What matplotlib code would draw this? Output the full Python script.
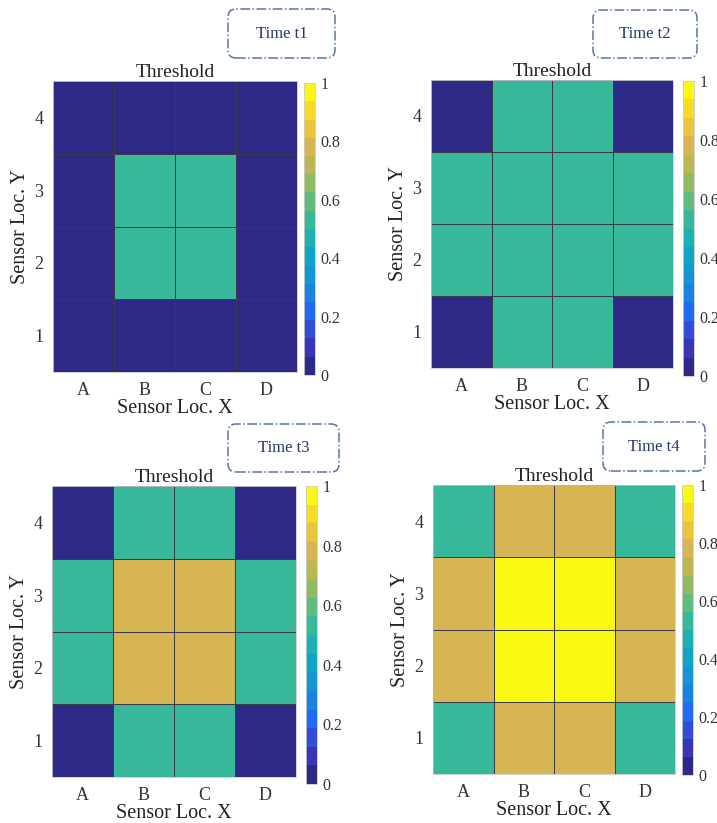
import numpy as np
import matplotlib
matplotlib.use("Agg")
import matplotlib.pyplot as plt
from matplotlib.colors import LinearSegmentedColormap, ListedColormap
from matplotlib.patches import FancyBboxPatch

plt.rcParams["font.family"] = ["Liberation Serif", "DejaVu Serif"]

# data: rows are Sensor Loc. Y = 1..4 (bottom to top), columns A..D
x_labels = ["A", "B", "C", "D"]
y_labels = ["1", "2", "3", "4"]
time_labels = ["Time t1", "Time t2", "Time t3", "Time t4"]

t1 = [[0, 0, 0, 0],
      [0, 0.5, 0.5, 0],
      [0, 0.5, 0.5, 0],
      [0, 0, 0, 0]]
t2 = [[0, 0.5, 0.5, 0],
      [0.5, 0.5, 0.5, 0.5],
      [0.5, 0.5, 0.5, 0.5],
      [0, 0.5, 0.5, 0]]
t3 = [[0, 0.5, 0.5, 0],
      [0.5, 0.75, 0.75, 0.5],
      [0.5, 0.75, 0.75, 0.5],
      [0, 0.5, 0.5, 0]]
t4 = [[0.5, 0.75, 0.75, 0.5],
      [0.75, 1, 1, 0.75],
      [0.75, 1, 1, 0.75],
      [0.5, 0.75, 0.75, 0.5]]

# approximate MATLAB parula, discretised into 16 bands
parula_pts = [
    (0.00, (0.18, 0.16, 0.53)),
    (0.10, (0.24, 0.24, 0.80)),
    (0.20, (0.12, 0.42, 0.95)),
    (0.30, (0.08, 0.56, 0.86)),
    (0.42, (0.05, 0.67, 0.76)),
    (0.53, (0.21, 0.72, 0.61)),
    (0.62, (0.42, 0.74, 0.46)),
    (0.71, (0.70, 0.72, 0.32)),
    (0.80, (0.84, 0.71, 0.32)),
    (0.90, (0.97, 0.80, 0.18)),
    (1.00, (0.98, 0.97, 0.07)),
]
base = LinearSegmentedColormap.from_list("parula", parula_pts)
cmap = ListedColormap(base(np.linspace(0, 1, 16)))

W, H = 717, 823
fig = plt.figure(figsize=(W / 100, H / 100), dpi=100)


def px_axes(x0, y0, x1, y1):
    return fig.add_axes([x0 / W, 1 - y1 / H, (x1 - x0) / W, (y1 - y0) / H])


# pixel boxes: heatmap, colorbar, time label box
panels = [
    ((53, 81, 297, 372), (304, 83, 315, 375), (228, 9, 335, 58)),
    ((431, 80, 673, 368), (683, 81, 694, 376), (593, 10, 697, 58)),
    ((52, 486, 296, 777), (306, 486, 317, 784), (228, 424, 339, 472)),
    ((433, 485, 675, 774), (682, 485, 693, 775), (603, 422, 705, 471)),
]

for data, label, (abox, cbox, tbox) in zip([t1, t2, t3, t4], time_labels, panels):
    ax = px_axes(*abox)
    z = np.array(data)
    mesh = ax.pcolormesh(np.arange(0.5, 5), np.arange(0.5, 5), z, cmap=cmap,
                         vmin=0, vmax=1, edgecolors="#3a3a48", linewidth=0.4)
    ax.set_xticks(range(1, 5), x_labels)
    ax.set_yticks(range(1, 5), y_labels)
    ax.tick_params(length=0, labelsize=13, pad=7, colors="#333333")
    for s in ax.spines.values():
        s.set_color("#cccccc")
        s.set_linewidth(0.6)
    ax.set_xlabel("Sensor Loc. X", fontsize=14.5, labelpad=0, color="#222222")
    ax.set_ylabel("Sensor Loc. Y", fontsize=14.5, labelpad=3, color="#222222")
    ax.set_title("Threshold", fontsize=14, pad=2, color="#222222")

    cax = px_axes(*cbox)
    cb = fig.colorbar(mesh, cax=cax, ticks=[0, 0.2, 0.4, 0.6, 0.8, 1])
    cb.ax.set_yticklabels(["0", "0.2", "0.4", "0.6", "0.8", "1"])
    cb.ax.tick_params(length=0, labelsize=11.5, pad=4, colors="#333333")
    cb.outline.set_edgecolor("#cccccc")
    cb.outline.set_linewidth(0.6)

    x0, y0, x1, y1 = tbox
    box = FancyBboxPatch((x0 / 100, (H - y1) / 100), (x1 - x0) / 100, (y1 - y0) / 100,
                         boxstyle="round,pad=0,rounding_size=0.08",
                         transform=fig.dpi_scale_trans, facecolor="none",
                         edgecolor="#5874a6", linewidth=1.1, linestyle="-.")
    fig.patches.append(box)
    fig.text((x0 + x1) / 2 / W, 1 - (y0 + y1) / 2 / H, label, ha="center", va="center",
             fontsize=12, color="#26386a")

fig.savefig("out.png", dpi=100)
